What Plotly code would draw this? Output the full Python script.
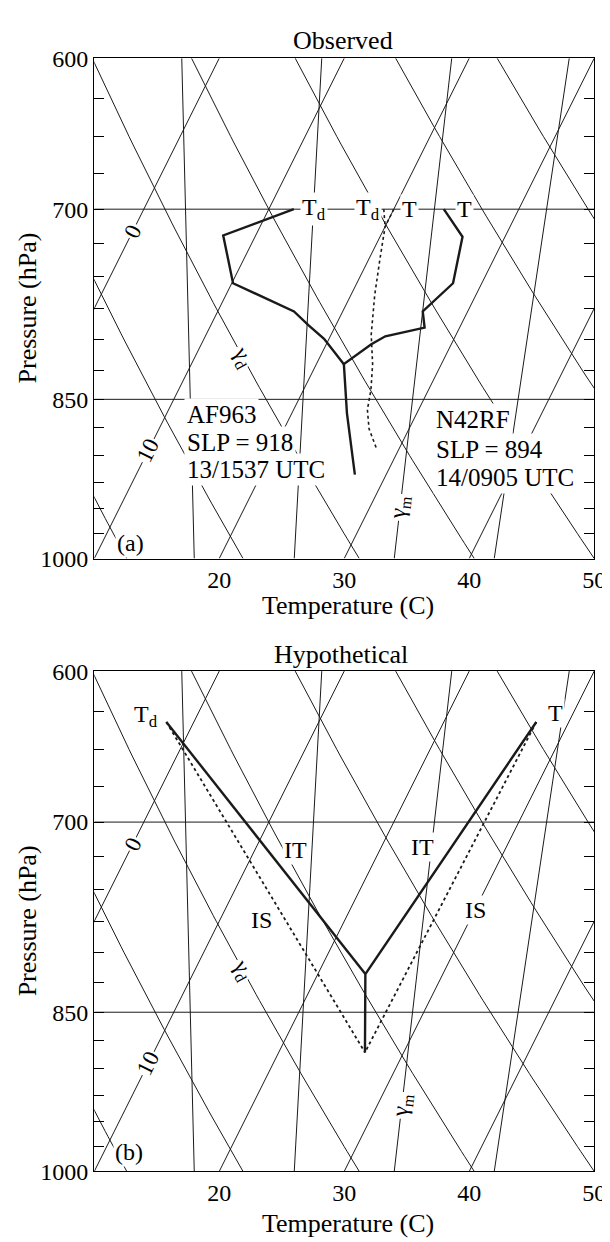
import numpy as np
import plotly.graph_objects as go

# ---------------- diagram definition ----------------
P_TOP, P_BOT = 600.0, 1000.0
ISOTHERM_SHIFT_AT_TOP = 20.0          # an isotherm moves 20 C to the right from 1000 to 600 hPa
ISOTHERMS_C = [0, 10, 20, 30, 40, 50]
DRY_ADIABAT_T1000_C = [12.6, 21.9, 31.2, 40.4, 50.0, 59.3, 68.7]
MOIST_ADIABAT_T1000_C = [18.0, 26.0, 34.0, 42.0]
MOIST_ADIABAT_T600_C = [-3.0, 8.2, 18.6, 28.0]
REF_PRESSURES = [700, 850]
PRESSURE_TICKS = [600, 625, 650, 675, 700, 725, 750, 775, 800, 825, 850,
                  875, 900, 925, 950, 975, 1000]
PRESSURE_LABELED = [600, 700, 850, 1000]
TEMP_TICKS = [20, 30, 40, 50]

# ---------------- observed soundings (panel a) ----------------
AF963_T_P = [700, 720, 755, 777, 790, 797, 803.5, 820, 862, 918]
AF963_T = [24.0, 26.6, 27.7, 26.4, 27.2, 24.4, 23.6, 22.2, 24.4, 27.5]
AF963_TD_P = [700, 719, 755, 777, 788, 799, 820]
AF963_TD = [12.0, 7.4, 10.1, 16.1, 17.8, 19.6, 22.2]

N42RF_T_P = [700, 712.6, 737, 764, 795.5, 820, 842, 859, 876, 894]
N42RF_T = [20.0, 20.0, 20.9, 21.9, 23.2, 24.5, 25.4, 25.9, 26.8, 28.2]
N42RF_TD_P = [700, 712.6]
N42RF_TD = [19.2, 20.0]

# ---------------- hypothetical soundings (panel b) ----------------
IT_TD_P = [632, 817.5]
IT_TD = [-2.2, 23.8]
IT_T_P = [632, 817.5, 885.6]
IT_T = [27.4, 23.8, 26.9]
IS_TD_P = [632, 885.6]
IS_TD = [-2.2, 26.9]
IS_T_P = [632, 885.6]
IS_T = [27.4, 26.9]

# ---------------- helpers ----------------
SKEW = ISOTHERM_SHIFT_AT_TOP / np.log(P_BOT / P_TOP)
KAPPA = 0.286
FONT = '"Liberation Serif", "Times New Roman", Times, "DejaVu Serif", serif'
W, H = 610, 1242
LINE = "#1a1a1a"


def sx(T, p):
    return np.asarray(T, float) + SKEW * np.log(P_BOT / np.asarray(p, float))


def dry_T(t1000, p):
    return (t1000 + 273.15) * (np.asarray(p, float) / P_BOT) ** KAPPA - 273.15


def moist_X(i, p):
    x0 = MOIST_ADIABAT_T1000_C[i]
    x1 = MOIST_ADIABAT_T600_C[i] + ISOTHERM_SHIFT_AT_TOP
    f = np.log(P_BOT / np.asarray(p, float)) / np.log(P_BOT / P_TOP)
    return x0 + (x1 - x0) * f


fig = go.Figure()
P_GRID = np.linspace(P_TOP, P_BOT, 81)


def add_line(panel, x, y, width=1.0, dash="solid", color=LINE):
    xa = "x" if panel == 1 else "x2"
    ya = "y" if panel == 1 else "y2"
    fig.add_trace(go.Scatter(x=list(x), y=list(y), mode="lines", xaxis=xa, yaxis=ya,
                             line=dict(color=color, width=width, dash=dash),
                             hoverinfo="skip", showlegend=False))


for panel in (1, 2):
    for T in ISOTHERMS_C:
        add_line(panel, sx([T, T], [P_BOT, P_TOP]), [P_BOT, P_TOP])
    for t0 in DRY_ADIABAT_T1000_C:
        add_line(panel, sx(dry_T(t0, P_GRID), P_GRID), P_GRID)
    for i in range(len(MOIST_ADIABAT_T1000_C)):
        add_line(panel, moist_X(i, [P_BOT, P_TOP]), [P_BOT, P_TOP])
    for pr in REF_PRESSURES:
        add_line(panel, [10, 50], [pr, pr])

# observed
add_line(1, sx(AF963_TD, AF963_TD_P), AF963_TD_P, width=2.4)
add_line(1, sx(AF963_T, AF963_T_P), AF963_T_P, width=2.4)
add_line(1, sx(N42RF_T, N42RF_T_P), N42RF_T_P, width=1.6, dash="dot")
add_line(1, sx(N42RF_TD, N42RF_TD_P), N42RF_TD_P, width=1.6, dash="dot")

# hypothetical
add_line(2, sx(IS_TD, IS_TD_P), IS_TD_P, width=1.8, dash="dot")
add_line(2, sx(IS_T, IS_T_P), IS_T_P, width=1.8, dash="dot")
add_line(2, sx(IT_TD, IT_TD_P), IT_TD_P, width=2.4)
add_line(2, sx(IT_T, IT_T_P), IT_T_P, width=2.4)

# ---------------- annotations ----------------
anns = []


def ann(panel, text, X, p, size=22, angle=0, xanchor="center", pad=1):
    anns.append(dict(text=text, x=float(X), y=float(np.log10(p)),
                     xref="x" if panel == 1 else "x2", yref="y" if panel == 1 else "y2",
                     showarrow=False, textangle=angle, xanchor=xanchor, yanchor="middle",
                     font=dict(family=FONT, size=size, color="black"),
                     bgcolor="white", borderpad=pad))


ISO_ANGLE = -np.degrees(np.arctan2(511.0, 12.75 * ISOTHERM_SHIFT_AT_TOP))
for panel in (1, 2):
    ann(panel, "0", sx(0, 716), 716, size=23, angle=ISO_ANGLE)
    ann(panel, "10", sx(10, 896), 896, size=23, angle=ISO_ANGLE)
    ann(panel, "γ<sub>d</sub>", sx(dry_T(DRY_ADIABAT_T1000_C[2], 814), 814), 814,
        size=23, angle=61)
pgm = {1: 949, 2: 935}
for panel in (1, 2):
    ann(panel, "γ<sub>m</sub>", moist_X(2, pgm[panel]), pgm[panel], size=23, angle=-83.5)

ann(1, "T<sub>d</sub>", 27.6, 700, size=24)
ann(1, "T<sub>d</sub>", 31.9, 700, size=24)
ann(1, "T", 35.25, 700, size=24)
ann(1, "T", 39.6, 700, size=24)
ann(1, "(a)", 12.9, 984, size=24)

for txt, p in (("AF963", 863.2), ("SLP = 918", 888.0), ("13/1537 UTC", 913.5)):
    ann(1, txt, 17.2, p, size=25, xanchor="left", pad=2)
for txt, p in (("N42RF", 867.8), ("SLP = 894", 894.5), ("14/0905 UTC", 920.9)):
    ann(1, txt, 37.1, p, size=25, xanchor="left", pad=2)

ann(2, "T<sub>d</sub>", 14.1, 628, size=24)
ann(2, "T", 46.9, 626, size=24)
ann(2, "IT", 26.1, 720.3, size=24)
ann(2, "IT", 36.3, 717.9, size=24)
ann(2, "IS", 23.4, 773.8, size=24)
ann(2, "IS", 40.5, 766.0, size=24)
ann(2, "(b)", 12.75, 980, size=24)


def paper(text, px, py, size=26, angle=0):
    anns.append(dict(text=text, x=px / W, y=1 - py / H, xref="paper", yref="paper",
                     showarrow=False, textangle=angle, xanchor="center", yanchor="middle",
                     font=dict(family=FONT, size=size, color="black")))


paper("Observed", 342, 20)
paper("Hypothetical", 340, 647)
paper("Temperature (C)", 347, 597)
paper("Temperature (C)", 347, 1228)
paper("Pressure (hPa)", 20, 293, angle=-90)
paper("Pressure (hPa)", 20, 919, angle=-90)

# ---------------- axes ----------------
xdom = [88 / W, 598 / W]
ydom1 = [1 - 549 / H, 1 - 38 / H]
ydom2 = [1 - 1175 / H, 1 - 664 / H]
ticktext = [str(p) if p in PRESSURE_LABELED else "" for p in PRESSURE_TICKS]

xax = dict(range=[10, 50], tickvals=TEMP_TICKS, ticktext=[str(t) for t in TEMP_TICKS],
           ticks="", showgrid=False, zeroline=False, showline=True, mirror=True,
           linecolor="black", linewidth=1.2, tickfont=dict(family=FONT, size=24, color="black"),
           domain=xdom)
yax = dict(type="log", range=[np.log10(P_BOT), np.log10(P_TOP)], tickvals=PRESSURE_TICKS,
           ticktext=ticktext, ticks="inside", ticklen=10, tickwidth=1, tickcolor="black",
           showgrid=False, zeroline=False, showline=True, mirror="ticks",
           linecolor="black", linewidth=1.2, tickfont=dict(family=FONT, size=24, color="black"))

fig.update_layout(
    width=W, height=H, margin=dict(l=0, r=0, t=0, b=0),
    paper_bgcolor="white", plot_bgcolor="white", showlegend=False,
    font=dict(family=FONT, color="black"),
    xaxis=dict(xax, anchor="y"),
    yaxis=dict(yax, domain=ydom1, anchor="x"),
    xaxis2=dict(xax, anchor="y2"),
    yaxis2=dict(yax, domain=ydom2, anchor="x2"),
    annotations=anns,
)

fig.write_html("out.html")
